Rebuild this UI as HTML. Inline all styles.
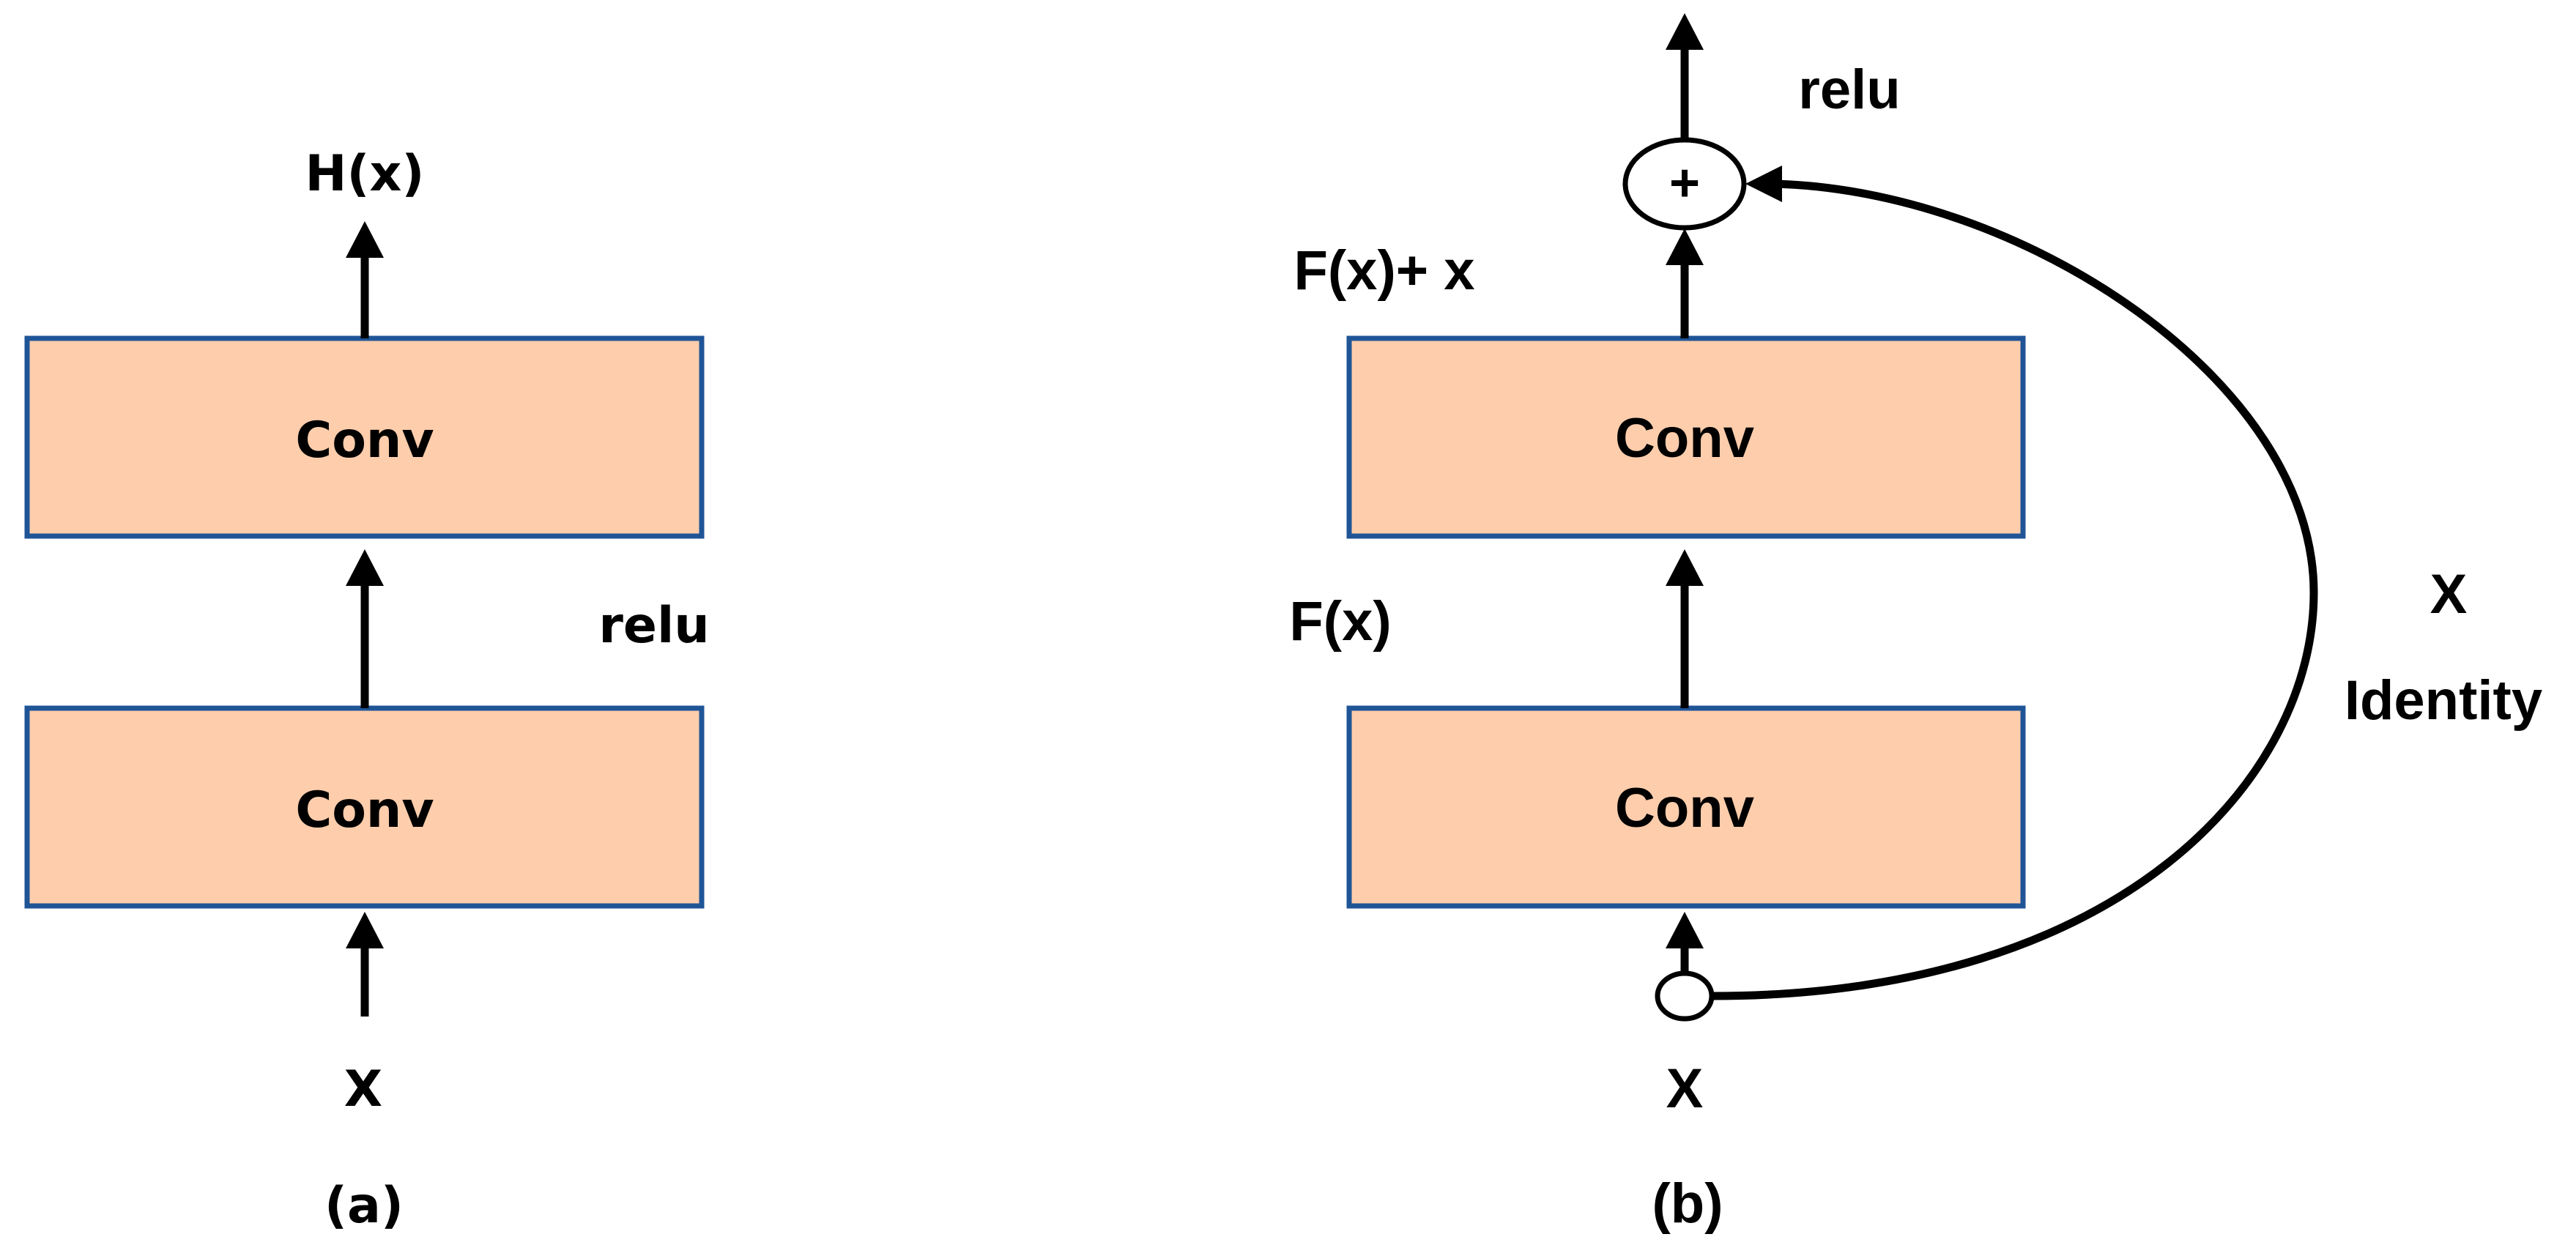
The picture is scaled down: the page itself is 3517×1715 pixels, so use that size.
<!DOCTYPE html>
<html><head><style>html,body{margin:0;padding:0;background:#fff}</style></head>
<body>
<svg width="3517" height="1710" viewBox="0 0 3517 1710" xmlns="http://www.w3.org/2000/svg">
<g fill="#fdcdac" stroke="#1f5597" stroke-width="7">
<rect x="37" y="462" width="921" height="270"/>
<rect x="37" y="967" width="921" height="270"/>
<rect x="1842" y="462" width="920" height="270"/>
<rect x="1842" y="967" width="920" height="270"/>
</g>
<g stroke="#000" stroke-width="11" fill="none">
<line x1="498" y1="462" x2="498" y2="340"/>
<line x1="498" y1="967" x2="498" y2="790"/>
<line x1="498" y1="1388" x2="498" y2="1290"/>
<line x1="2300" y1="462" x2="2300" y2="350"/>
<line x1="2300" y1="190" x2="2300" y2="60"/>
<line x1="2300" y1="967" x2="2300" y2="790"/>
<line x1="2300" y1="1330" x2="2300" y2="1290"/>
<path d="M2338,1360 C2900,1360 3160,1060 3159,808 C3158,520 2760,258 2420,251"/>
</g>
<g fill="#000">
<polygon points="498,302 472,352 524,352"/>
<polygon points="498,750 472,800 524,800"/>
<polygon points="498,1245 472,1295 524,1295"/>
<polygon points="2300,312 2274,362 2326,362"/>
<polygon points="2300,18 2274,68 2326,68"/>
<polygon points="2300,750 2274,800 2326,800"/>
<polygon points="2300,1245 2274,1295 2326,1295"/>
<polygon points="2383,251 2433,226 2433,276"/>
</g>
<g fill="#fff" stroke="#000" stroke-width="7">
<ellipse cx="2300" cy="251" rx="81" ry="60"/>
<ellipse cx="2300" cy="1360" rx="37" ry="31"/>
</g>
<g font-family="'DejaVu Sans',sans-serif" font-weight="bold" font-size="68" text-anchor="middle" fill="#000">
<text x="498" y="624">Conv</text>
<text x="498" y="1129">Conv</text>
<text x="498" y="260">H(x)</text>
<text x="496" y="1510">X</text>
<text x="497" y="1669">(a)</text>
<text x="893" y="877">relu</text>
</g>
<g font-family="'Liberation Sans',sans-serif" font-weight="bold" font-size="76" text-anchor="middle" fill="#000">
<text x="2300" y="624">Conv</text>
<text x="2300" y="1129">Conv</text>
<text x="2300" y="274" font-size="72">+</text>
<text x="2525" y="148">relu</text>
<text x="1890" y="395">F(x)+ x</text>
<text x="1830" y="874">F(x)</text>
<text x="2300" y="1512">X</text>
<text x="2304" y="1669">(b)</text>
<text x="3343" y="837">X</text>
<text x="3336" y="982">Identity</text>
</g>
</svg>
</body></html>
